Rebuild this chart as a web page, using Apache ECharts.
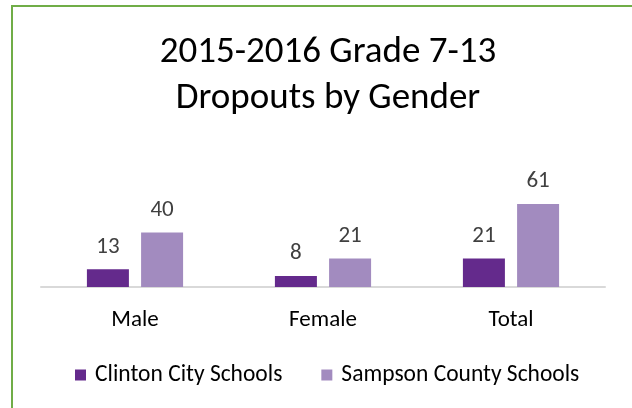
<!DOCTYPE html>
<html>
<head>
<meta charset="utf-8">
<script src="https://cdn.jsdelivr.net/npm/echarts@6/dist/echarts.min.js"></script>
<style>
html,body{margin:0;padding:0;background:#fff;overflow:hidden;}
#c{width:632px;height:408px;}
</style>
</head>
<body>
<div id="c"></div>
<script>
const categories = ['Male', 'Female', 'Total'];
const clinton = [13, 8, 21];
const sampson = [40, 21, 61];
const seriesNames = ['Clinton City Schools', 'Sampson County Schools'];

const FONT = 'Calibri, Carlito, Lato, sans-serif';
const chart = echarts.init(document.getElementById('c'), null, {renderer: 'canvas'});
chart.setOption({
  animation: false,
  backgroundColor: '#fff',
  graphic: [{
    type: 'rect', silent: true,
    shape: {x: 12, y: 6, width: 800, height: 600},
    style: {fill: 'none', stroke: '#70AD47', lineWidth: 2}
  }],
  title: {
    text: '2015-2016 Grade 7-13\nDropouts by Gender',
    left: 323, top: 25,
    textAlign: 'center',
    textStyle: {fontFamily: FONT, fontSize: 37, fontWeight: 'normal', color: '#000', lineHeight: 46}
  },
  legend: {
    top: 358, left: 70,
    itemWidth: 11, itemHeight: 11, itemGap: 39,
    icon: 'rect',
    textStyle: {fontFamily: FONT, fontSize: 23.5, color: '#000', padding: [0,0,0,4]}
  },
  grid: {left: 41, right: 27, top: 151, bottom: 121},
  xAxis: {
    type: 'category', data: categories,
    axisLine: {lineStyle: {color: '#D9D9D9', width: 2}},
    axisTick: {show: false},
    axisLabel: {fontFamily: FONT, fontSize: 23, color: '#000', margin: 22}
  },
  yAxis: {type: 'value', min: 0, max: 100, show: false, splitLine: {show: false}},
  series: [
    {name: seriesNames[0], type: 'bar', data: clinton, barWidth: 42, barGap: '29%',
     itemStyle: {color: '#642A8C'},
     label: {show: true, position: 'top', distance: 11, fontFamily: FONT, fontSize: 23, color: '#404040'}},
    {name: seriesNames[1], type: 'bar', data: sampson, barWidth: 42,
     itemStyle: {color: '#A28BBF'},
     label: {show: true, position: 'top', distance: 11, fontFamily: FONT, fontSize: 23, color: '#404040'}}
  ]
});
</script>
</body>
</html>
